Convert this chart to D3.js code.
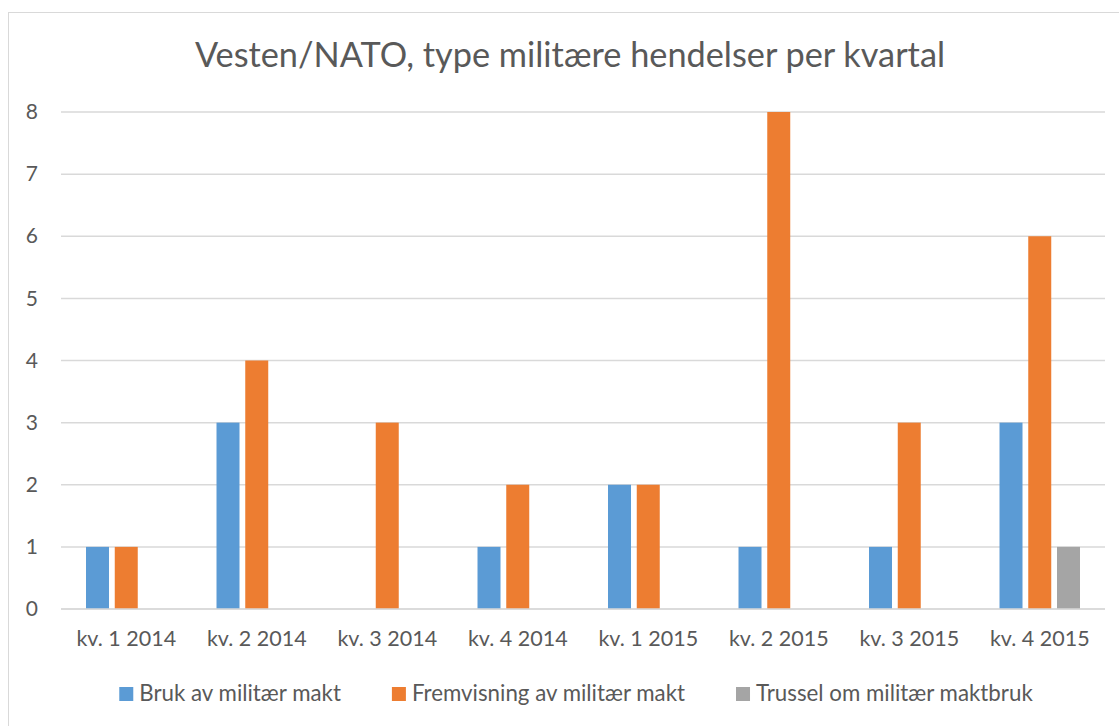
<!DOCTYPE html>
<html>
<head>
<meta charset="utf-8">
<script src="https://cdn.jsdelivr.net/npm/d3@7"></script>
<style>
  body { margin: 0; background: #fff; }
  text { font-family: Lato, "Open Sans", sans-serif; fill: #595959; }
</style>
</head>
<body>
<div id="chart"></div>
<script>
var categories = ["kv. 1 2014", "kv. 2 2014", "kv. 3 2014", "kv. 4 2014",
                  "kv. 1 2015", "kv. 2 2015", "kv. 3 2015", "kv. 4 2015"];
var seriesNames = ["Bruk av militær makt", "Fremvisning av militær makt", "Trussel om militær maktbruk"];
var brukValues = [1, 3, 0, 1, 2, 1, 1, 3];
var fremvisningValues = [1, 4, 3, 2, 2, 8, 3, 6];
var trusselValues = [0, 0, 0, 0, 0, 0, 0, 1];
var yTicks = [0, 1, 2, 3, 4, 5, 6, 7, 8];
var colors = ["#5B9BD5", "#ED7D31", "#A5A5A5"];

var allValues = [brukValues, fremvisningValues, trusselValues];
var W = 1119, H = 726;
var margin = {top: 112, right: 14, bottom: 117, left: 61};
var width = W - margin.left - margin.right;
var height = H - margin.top - margin.bottom;

var svg = d3.select("#chart").append("svg")
    .attr("width", W)
    .attr("height", H);

// chart border
svg.append("rect")
    .attr("x", 8.5).attr("y", 12.5)
    .attr("width", W).attr("height", H)
    .attr("fill", "none")
    .attr("stroke", "#D9D9D9");

svg.append("text")
    .attr("x", 570)
    .attr("y", 67)
    .attr("text-anchor", "middle")
    .style("font-size", "34.3px")
    .text("Vesten/NATO, type militære hendelser per kvartal");

var x0 = d3.scaleBand().domain(categories).range([0, width]).padding(0);
var x1 = d3.scaleBand().domain(d3.range(seriesNames.length))
    .range([0, x0.bandwidth()])
    .paddingInner(0.2).paddingOuter(0.87);
var y = d3.scaleLinear().domain([0, 8]).range([height, 0]);

var g = svg.append("g")
    .attr("transform", "translate(" + margin.left + "," + margin.top + ")");

g.selectAll(".grid")
    .data(yTicks)
    .enter().append("line")
    .attr("class", "grid")
    .attr("x1", 0).attr("x2", width)
    .attr("y1", function(d) { return y(d); })
    .attr("y2", function(d) { return y(d); })
    .attr("stroke", "#D9D9D9")
    .attr("stroke-width", 1.5);

var groups = g.selectAll(".cat")
    .data(categories)
    .enter().append("g")
    .attr("class", "cat")
    .attr("transform", function(d) { return "translate(" + x0(d) + ",0)"; });

groups.selectAll("rect")
    .data(function(d, i) {
        return allValues.map(function(vals, s) { return {s: s, v: vals[i]}; });
    })
    .enter().append("rect")
    .attr("x", function(d) { return x1(d.s); })
    .attr("width", x1.bandwidth())
    .attr("y", function(d) { return y(d.v); })
    .attr("height", function(d) { return height - y(d.v); })
    .attr("fill", function(d) { return colors[d.s]; });

// redraw the zero line over the bars
g.append("line")
    .attr("x1", 0).attr("x2", width)
    .attr("y1", y(0)).attr("y2", y(0))
    .attr("stroke", "#D9D9D9")
    .attr("stroke-width", 1.5);

var axisY = d3.axisLeft(y).tickValues(yTicks).tickSize(0).tickPadding(23);
g.append("g")
    .attr("class", "axis axis--y")
    .call(axisY)
    .call(function(a) { a.select(".domain").remove(); })
    .selectAll("text")
    .style("font-size", "21px")
    .attr("fill", "#595959");

var axisX = d3.axisBottom(x0).tickSize(0).tickPadding(22);
g.append("g")
    .attr("class", "axis axis--x")
    .attr("transform", "translate(0," + height + ")")
    .call(axisX)
    .call(function(a) { a.select(".domain").remove(); })
    .selectAll("text")
    .style("font-size", "21.5px")
    .attr("fill", "#595959");

// legend
var legend = svg.append("g").attr("class", "legend");
var items = legend.selectAll(".item")
    .data(seriesNames)
    .enter().append("g")
    .attr("class", "item");
items.append("rect")
    .attr("width", 14).attr("height", 14)
    .attr("y", -14)
    .attr("fill", function(d, i) { return colors[i]; });
items.append("text")
    .attr("x", 20)
    .attr("y", 0)
    .style("font-size", "22.3px")
    .text(function(d) { return d; });

var xPos = 0, positions = [];
items.each(function() {
    positions.push(xPos);
    xPos += 20 + this.querySelector("text").getComputedTextLength() + 51;
});
var total = xPos - 51;
items.attr("transform", function(d, i) { return "translate(" + positions[i] + ",0)"; });
legend.attr("transform", "translate(" + (576 - total / 2) + ",701)");
</script>
</body>
</html>
